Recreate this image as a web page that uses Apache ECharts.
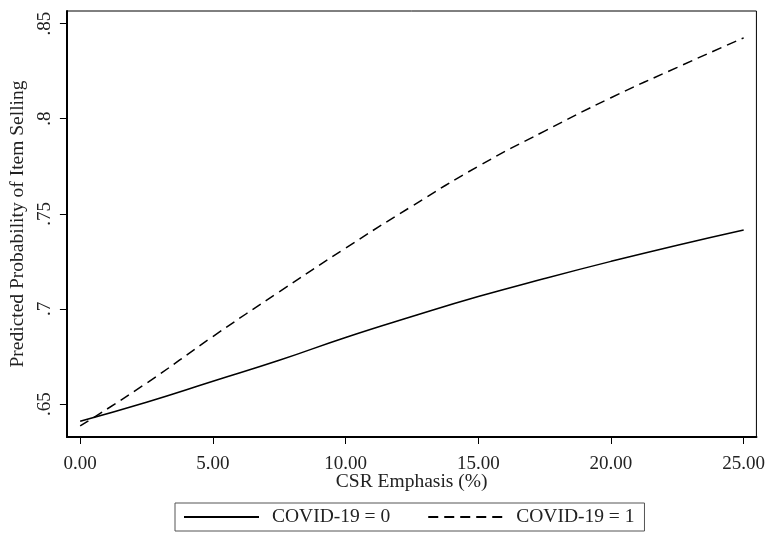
<!DOCTYPE html>
<html><head><meta charset="utf-8">
<script src="https://cdn.jsdelivr.net/npm/echarts@6/dist/echarts.min.js"></script>
<style>html,body{margin:0;padding:0;background:#fff}#c{width:768px;height:540px}</style>
</head><body><div id="c"></div>
<script>
const xValues = [0, 2.5, 5, 7.5, 10, 12.5, 15, 17.5, 20, 22.5, 25];
const covid0 = [0.641, 0.651, 0.662, 0.673, 0.685, 0.696, 0.7065, 0.716, 0.725, 0.7335, 0.7415];
const covid1 = [0.6385, 0.661, 0.6855, 0.709, 0.732, 0.754, 0.775, 0.7935, 0.811, 0.827, 0.8425];
const xTicks = [0, 5, 10, 15, 20, 25];
const yTicks = [0.65, 0.7, 0.75, 0.8, 0.85];
const yTickLabels = ['.65', '.7', '.75', '.8', '.85'];
const seriesNames = ['COVID-19 = 0', 'COVID-19 = 1'];

const font = 'Liberation Serif';
const chart = echarts.init(document.getElementById('c'), null, {renderer: 'canvas'});
chart.setOption({
  animation: false,
  backgroundColor: '#fff',
  grid: {left: 64, top: 11, right: 11, bottom: 103, show: true, borderColor: '#000', borderWidth: 1, backgroundColor: 'transparent'},
  xAxis: {
    type: 'value', min: -0.5, max: 25.48,
    name: 'CSR Emphasis (%)', nameLocation: 'middle', nameGap: 35, nameMoveOverlap: false,
    nameTextStyle: {fontFamily: font, fontSize: 19.5, color: '#222'},
    axisLine: {show: true, onZero: false, lineStyle: {color: '#000', width: 2}},
    axisTick: {show: true, length: 7, customValues: xTicks, lineStyle: {color: '#000', width: 1}},
    axisLabel: {customValues: xTicks, margin: 18, fontFamily: font, fontSize: 19, color: '#222', formatter: v => v.toFixed(2)},
    splitLine: {show: false}
  },
  yAxis: {
    type: 'value', min: 0.6327, max: 0.8566,
    name: 'Predicted Probability of Item Selling', nameLocation: 'middle', nameGap: 34,
    nameTextStyle: {fontFamily: font, fontSize: 19.5, color: '#222'},
    axisLine: {show: true, onZero: false, lineStyle: {color: '#000', width: 2}},
    axisTick: {show: true, length: 7, customValues: yTicks, lineStyle: {color: '#000', width: 1}},
    axisLabel: {customValues: yTicks, rotate: 90, margin: 12, fontFamily: font, fontSize: 19, color: '#222',
      formatter: v => { const i = yTicks.findIndex(t => Math.abs(t - v) < 1e-9); return i >= 0 ? yTickLabels[i] : ''; }},
    splitLine: {show: false}
  },
  legend: {
    left: 175, top: 503,
    padding: [4, 10, 4, 8],
    borderColor: '#555', borderWidth: 1,
    itemWidth: 75, itemHeight: 14, itemGap: 37,
    itemStyle: {opacity: 0, borderWidth: 0},
    textStyle: {fontFamily: font, fontSize: 19.5, color: '#222', padding: [0, 0, 0, 8]},
    data: seriesNames
  },
  series: [
    {name: seriesNames[0], type: 'line', data: xValues.map((x, i) => [x, covid0[i]]), smooth: true, symbol: 'none',
      lineStyle: {color: '#000', width: 1.5, type: 'solid'}, itemStyle: {color: '#000'}},
    {name: seriesNames[1], type: 'line', data: xValues.map((x, i) => [x, covid1[i]]), smooth: true, symbol: 'none',
      lineStyle: {color: '#000', width: 1.5, type: [10, 6]}, itemStyle: {color: '#000'}}
  ]
});
</script></body></html>
